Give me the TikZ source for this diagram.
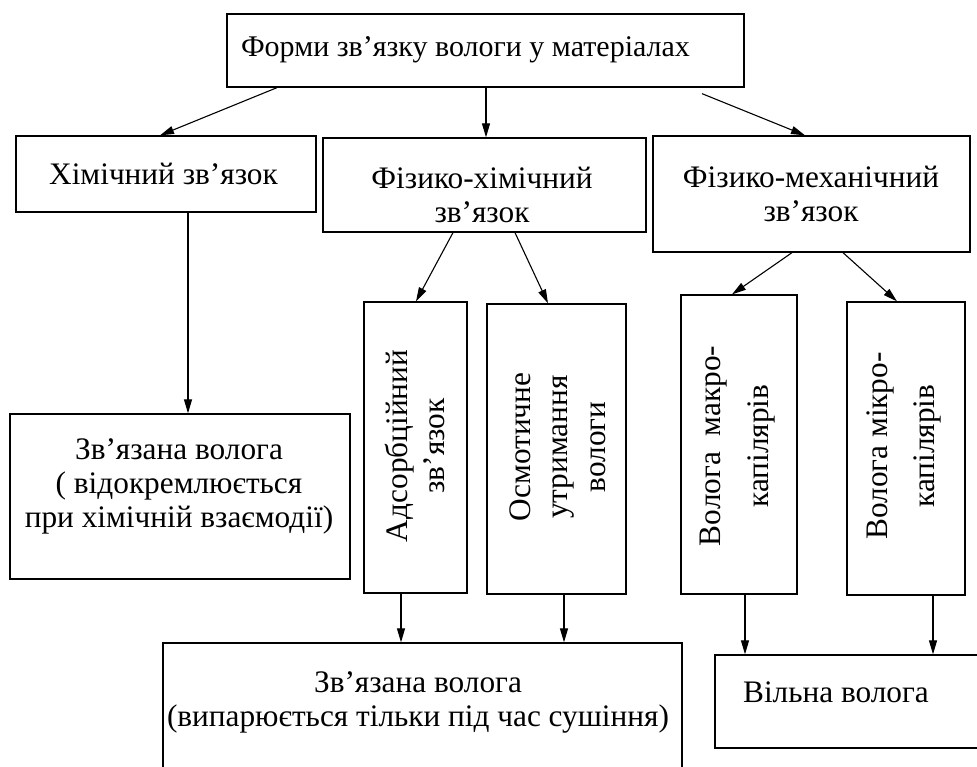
\documentclass[tikz,border=0pt]{standalone}
\usepackage{fontspec}
\setmainfont{Liberation Serif}
\usetikzlibrary{arrows.meta}
\begin{document}
\begin{tikzpicture}[x=1pt,y=-1pt,
  box/.style={draw, line width=1.3pt, inner sep=0pt},
  txt/.style={inner sep=0pt, align=center, font=\fontsize{31.3}{34}\selectfont},
  vtxt/.style={txt, rotate=90},
  arr/.style={line width=1.1pt, -{Triangle[length=14pt,width=8pt]}}]
\useasboundingbox (0,0) rectangle (977,767);
\clip (0,0) rectangle (977,767);
\fill[white] (0,0) rectangle (977,767);
% boxes
\node[box, minimum width=517pt, minimum height=73pt]  (top)   at (485.5,50.5) {};
\node[box, minimum width=300pt, minimum height=76pt]  (chem)  at (166,174) {};
\node[box, minimum width=323pt, minimum height=94pt]  (pchem) at (484.5,185) {};
\node[box, minimum width=317pt, minimum height=116pt] (pmech) at (811.5,194) {};
\node[box, minimum width=103pt, minimum height=291pt] (ads)   at (415.5,447.5) {};
\node[box, minimum width=139pt, minimum height=290pt] (osm)   at (556.5,449) {};
\node[box, minimum width=116pt, minimum height=299pt] (macro) at (739,444.5) {};
\node[box, minimum width=118pt, minimum height=293pt] (micro) at (906,448.5) {};
\node[box, minimum width=340pt, minimum height=165pt] (bnd1)  at (180,496.5) {};
\node[box, minimum width=519pt, minimum height=157pt] (bnd2)  at (422.5,721.5) {};
\node[box, minimum width=275pt, minimum height=93pt]  (free)  at (852.5,701.5) {};
% texts
\node[txt, font=\fontsize{30}{34}\selectfont] (ttop) at (465.5,50) {Форми зв’язку вологи у матеріалах};
\node[txt] (tchem) at (163.5,174) {Хімічний зв’язок};
\node[txt] (tpchem) at (482,195) {Фізико-хімічний\\зв’язок};
\node[txt] (tpmech) at (811,194) {Фізико-механічний\\зв’язок};
\node[txt] (tbnd1) at (179,486) {Зв’язана волога\\( відокремлюється\\при хімічній взаємодії)};
\node[txt] (tbnd2) at (418,702) {Зв’язана волога\\(випарюється тільки під час сушіння)};
\node[txt] (tfree) at (836,692) {Вільна волога};
\node[vtxt, font=\fontsize{31.3}{37}\selectfont] (tads) at (414.5,446) {Адсорбційний\\зв’язок};
\node[vtxt, font=\fontsize{31.3}{37.5}\selectfont] (tosm) at (557.5,447) {Осмотичне\\утримання\\вологи};
\node[vtxt, font=\fontsize{31.3}{48}\selectfont] (tmacro) at (738,446) {Волога~~макро-\\капілярів};
\node[vtxt, font=\fontsize{31.3}{47}\selectfont] (tmicro) at (903.5,446) {Волога мікро-\\капілярів};
% connectors
\draw[arr] ([xshift=-208.5pt]top.south) -- ([xshift=-6pt]chem.north);
\draw[arr] ([xshift=0.5pt]top.south) -- ([xshift=1.5pt]pchem.north);
\draw[arr] ([xshift=216.5pt,yshift=-6pt]top.south) -- ([xshift=-6.5pt]pmech.north);
\draw[arr] ([xshift=22pt]chem.south) -- ([xshift=8pt]bnd1.north);
\draw[arr] ([xshift=-31.5pt]pchem.south) -- ([xshift=0.5pt]ads.north);
\draw[arr] ([xshift=30.5pt]pchem.south) -- ([xshift=-8.5pt]osm.north);
\draw[arr] ([xshift=-19.5pt]pmech.south) -- ([xshift=-7pt]macro.north);
\draw[arr] ([xshift=31.5pt]pmech.south) -- ([xshift=-9pt]micro.north);
\draw[arr] ([xshift=-14.5pt]ads.south) -- ([xshift=-14.5pt]ads.south |- bnd2.north);
\draw[arr] ([xshift=7.5pt]osm.south) -- ([xshift=7.5pt]osm.south |- bnd2.north);
\draw[arr] ([xshift=6pt]macro.south) -- ([xshift=6pt]macro.south |- free.north);
\draw[arr] ([xshift=27pt]micro.south) -- ([xshift=27pt]micro.south |- free.north);
\end{tikzpicture}
\end{document}
